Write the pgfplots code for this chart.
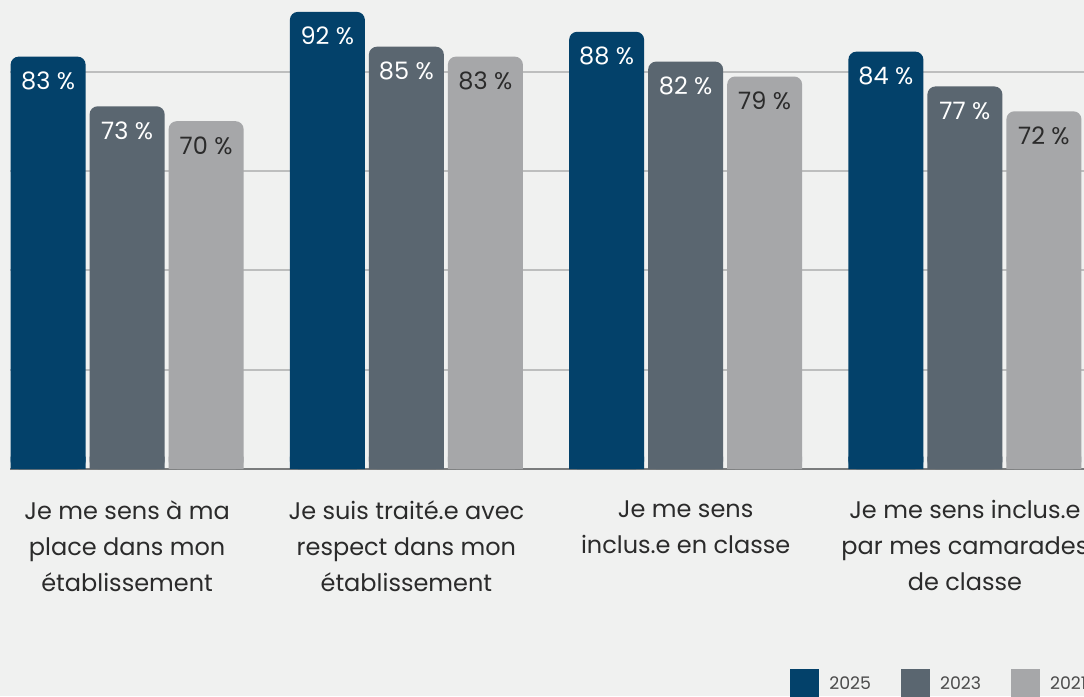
\documentclass[border=0pt]{standalone}
\usepackage{pgfplots}
\pgfplotsset{compat=1.18}
\usepackage{fontspec}
\setmainfont{Poppins}
\definecolor{bg}{HTML}{F0F1F0}
\definecolor{c25}{HTML}{03416A}
\definecolor{c23}{HTML}{5A6670}
\definecolor{c21}{HTML}{A6A7A9}
\definecolor{gridc}{HTML}{BDBEBE}
\definecolor{basec}{HTML}{7A7C7D}
\definecolor{txt}{HTML}{2B2B2B}
\begin{document}
\begin{tikzpicture}
\useasboundingbox (0,0) rectangle (813pt,522pt);
\fill[bg] (0,0) rectangle (813pt,522pt);
\clip (0,0) rectangle (813pt,522pt);
\begin{axis}[
  at={(7.5pt,170.25pt)}, anchor=south west,
  scale only axis, width=805.5pt, height=351.75pt,
  xmin=-0.4194, xmax=3.4265, ymin=0, ymax=94.4,
  axis x line*=bottom, axis y line*=left,
  y axis line style={draw=none},
  x axis line style={draw=basec, line width=1.5pt, -},
  ytick={20,40,60,80}, yticklabels={},
  ymajorgrids, grid style={draw=gridc, line width=1.5pt},
  xtick={0,1,2,3},
  xticklabels={{Je me sens à ma\\place dans mon\\établissement},
               {Je suis traité.e avec\\respect dans mon\\établissement},
               {Je me sens\\inclus.e en classe},
               {Je me sens inclus.e\\par mes camarades\\de classe}},
  xticklabel style={align=center, font=\fontsize{18}{27}\selectfont, text=txt, yshift=-20pt},
  major tick length=0pt,
  tick style={draw=none},
  /pgf/number format/assume math mode=true,
  legend style={at={(0.7263,-0.4264)}, anchor=north west, draw=none, fill=none,
    inner sep=0pt, legend columns=3, font=\fontsize{13}{13}\selectfont,
    text=txt!85,
    /tikz/every odd column/.append style={column sep=5.5pt},
    /tikz/every even column/.append style={column sep=20.5pt}},
  legend image code/.code={\fill[#1,sharp corners] (0pt,-10.875pt) rectangle (21.75pt,10.875pt);},
]
% rounded bars
\addplot[ybar, bar width=56.25pt, bar shift=-59.25pt, fill=c25, draw=none, rounded corners=6pt,
  nodes near coords={\pgfmathprintnumber{\pgfplotspointmeta}~\%},
  nodes near coords style={anchor=north, xshift=-59.25pt, yshift=-8pt, text=white, font=\fontsize{18}{18}\selectfont}]
  coordinates {(0,83) (1,92) (2,88) (3,84)};
\addplot[ybar, bar width=56.25pt, bar shift=0pt, fill=c23, draw=none, rounded corners=6pt,
  nodes near coords={\pgfmathprintnumber{\pgfplotspointmeta}~\%},
  nodes near coords style={anchor=north, yshift=-8pt, text=white, font=\fontsize{18}{18}\selectfont}]
  coordinates {(0,73) (1,85) (2,82) (3,77)};
\addplot[ybar, bar width=56.25pt, bar shift=59.25pt, fill=c21, draw=none, rounded corners=6pt,
  nodes near coords={\pgfmathprintnumber{\pgfplotspointmeta}~\%},
  nodes near coords style={anchor=north, xshift=59.25pt, yshift=-8pt, text=txt, font=\fontsize{18}{18}\selectfont}]
  coordinates {(0,70) (1,83) (2,79) (3,72)};
% square bottoms (cover the lower rounded corners)
\addplot[ybar, bar width=56.25pt, bar shift=-59.25pt, fill=c25, draw=none, forget plot] coordinates {(0,2.5) (1,2.5) (2,2.5) (3,2.5)};
\addplot[ybar, bar width=56.25pt, bar shift=0pt, fill=c23, draw=none, forget plot] coordinates {(0,2.5) (1,2.5) (2,2.5) (3,2.5)};
\addplot[ybar, bar width=56.25pt, bar shift=59.25pt, fill=c21, draw=none, forget plot] coordinates {(0,2.5) (1,2.5) (2,2.5) (3,2.5)};
\legend{2025,2023,2021}
\end{axis}
\end{tikzpicture}
\end{document}
